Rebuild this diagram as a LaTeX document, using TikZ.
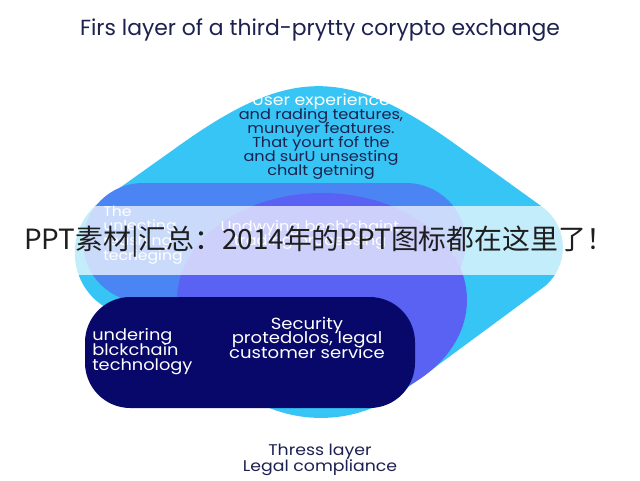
\documentclass[tikz,border=0pt]{standalone}
\usepackage{fontspec}
\setmainfont{Poppins}
\newfontfamily\wpop{Poppins}[FakeStretch=1.12]
\newfontfamily\cjkfont{Noto Sans CJK SC}
\usetikzlibrary{calc}
\definecolor{cyanc}{HTML}{36C5F4}
\definecolor{blobc}{HTML}{4A85F3}
\definecolor{violetc}{HTML}{5A62F4}
\definecolor{navyc}{HTML}{08086B}
\definecolor{inkc}{HTML}{1C2150}
\definecolor{wmc}{HTML}{1E1E1E}
\newcommand{\fsz}[2]{\fontsize{#1}{#2}\selectfont\lineskiplimit=-40pt\relax}
\begin{document}
\begin{tikzpicture}[x=0.75pt,y=-0.75pt,
  lbl/.style={inner sep=0pt, align=center},
  wtxt/.style={lbl, text=white},
  dtxt/.style={lbl, text=inkc}]
\useasboundingbox (0,0) rectangle (640,480);
\fill[white] (0,0) rectangle (640,480);
% light blue rounded diamond
\coordinate (T) at (319,46);
\coordinate (R) at (598,247);
\coordinate (B) at (327,447);
\coordinate (L) at (24,256);
\fill[cyanc] ($(T)!127.5pt!(L)$) .. controls ($(T)!26.5pt!(L)$) and ($(T)!26.5pt!(R)$) .. ($(T)!127.5pt!(R)$)
 -- ($(R)!51.75pt!(T)$) .. controls ($(R)!26.2pt!(T)$) and ($(R)!26.2pt!(B)$) .. ($(R)!51.75pt!(B)$)
 -- ($(B)!71.25pt!(R)$) .. controls ($(B)!28pt!(R)$) and ($(B)!28pt!(L)$) .. ($(B)!71.25pt!(L)$)
 -- ($(L)!71.25pt!(B)$) .. controls ($(L)!37.4pt!(B)$) and ($(L)!37.4pt!(T)$) .. ($(L)!71.25pt!(T)$) -- cycle;
% medium blue blob
\fill[blobc, rounded corners=45pt] (83,183) rectangle (466,302);
% violet ellipse
\fill[violetc] (322,300) ellipse (145 and 107);
% navy rounded rectangle
\fill[navyc, rounded corners=34pt] (85,297) rectangle (415,408);

% title
\node[dtxt, font=\fsz{16.4}{19}] (title) at (320,30) {Firs layer of a third-prytty corypto exchange};
% diamond text
\node[lbl, font=\wpop\fsz{10.8}{10.5}, text=inkc] (ux) at (321,137)
  {\textcolor{white}{\fontsize{11.6}{10.5}\selectfont User experience}\\and rading teatures,\\munuyer features.\\That yourt fof the\\and surU unsesting\\chalt getning};
% blob text
\node[wtxt, align=left, anchor=west, font=\wpop\fsz{10.5}{11}] (blobt) at (103,235)
  {The\\unlecting\\reashing\\tecrieging};
% violet text
\node[wtxt, font=\wpop\fsz{10.8}{10.5}] (viol) at (310,235)
  {Undwying bech'chaint\\trading processing};
% navy text
\node[wtxt, align=left, anchor=west, font=\wpop\fsz{11.9}{11.25}] (navl) at (92,352)
  {undering\\blckchain\\technology};
\node[wtxt, font=\wpop\fsz{12.1}{10.9}] (navr) at (307,337.5)
  {Security\\protedolos, legal\\customer service};
% bottom text
\node[dtxt, font=\wpop\fsz{11.6}{12}] (bot) at (320,460)
  {Thress layer\\Legal compliance};

% watermark band
\fill[white, opacity=0.7] (0,206) rectangle (640,275);
\node[inner sep=0pt, text=wmc, font=\cjkfont\fsz{20.9}{24}] (wm) at (319,242)
  {PPT素材|汇总：2014年的PPT图标都在这里了！};
\end{tikzpicture}
\end{document}
